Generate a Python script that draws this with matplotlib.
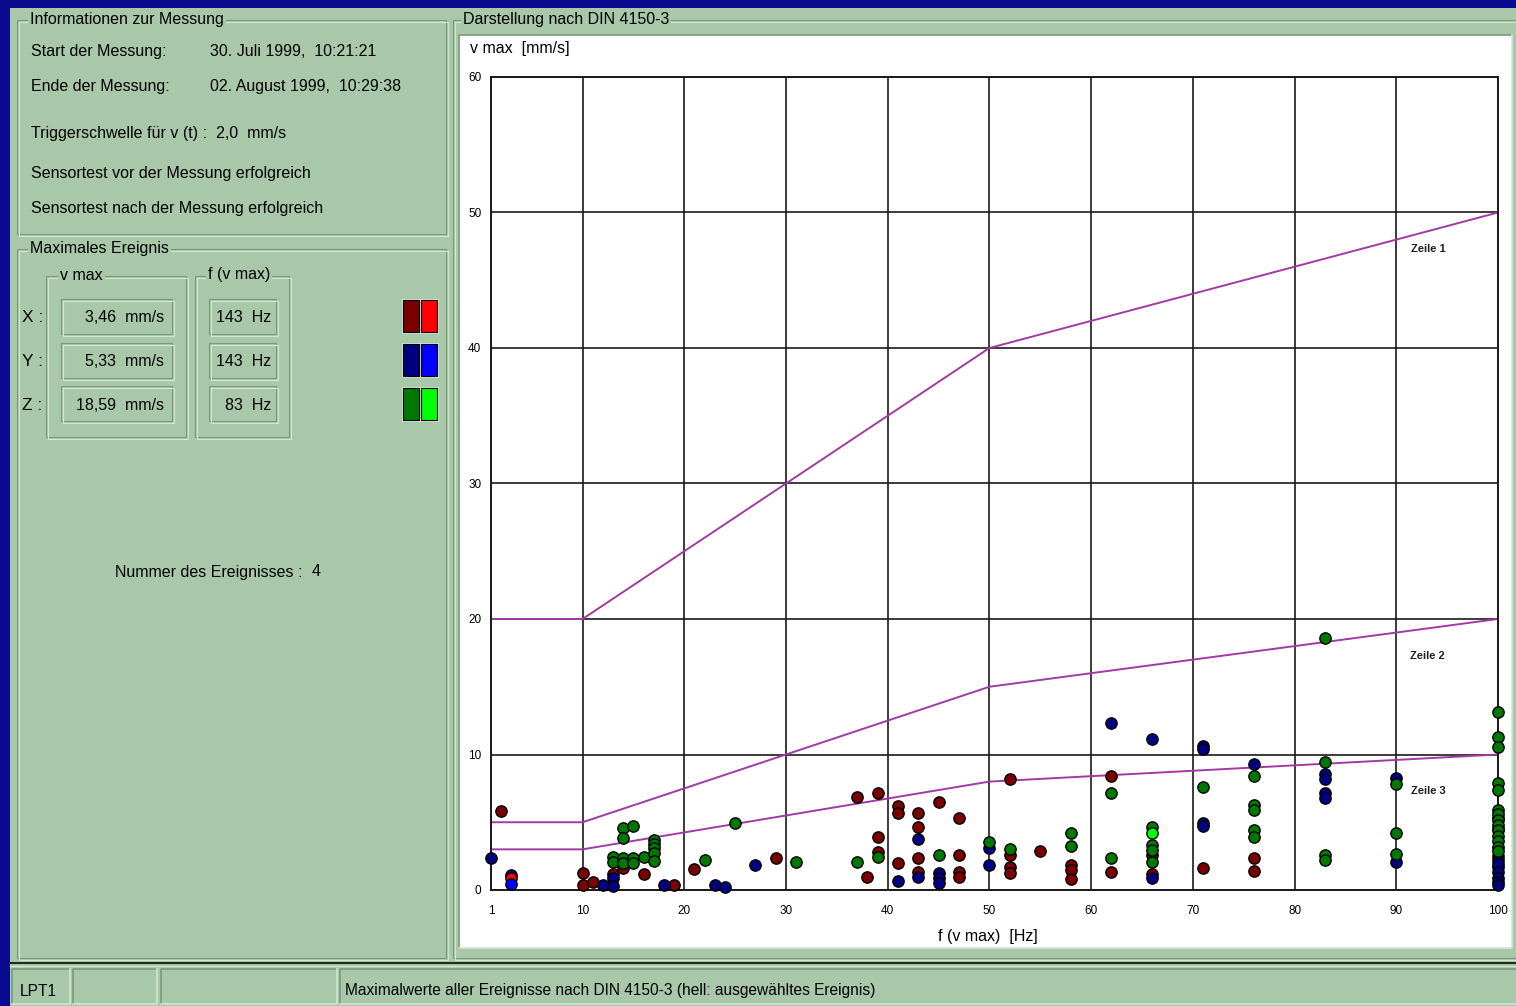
import matplotlib.pyplot as plt
from matplotlib.patches import Rectangle

plt.rcParams['font.family'] = ['Liberation Sans', 'DejaVu Sans']

# ====================== Daten ======================
# Anhaltswerte DIN 4150-3 (Zeile 1..3)
zeile_f = [1, 10, 50, 100]
zeile1 = [20, 20, 40, 50]
zeile2 = [5, 5, 15, 20]
zeile3 = [3, 3, 8, 10]

# X-Komponente (dunkelrot)
x_f = [2, 10, 10, 11, 13, 14, 16, 19, 21, 29, 37, 38, 39, 39, 39, 41, 41, 41,
       43, 43, 43, 43, 45, 47, 47, 47, 47, 52, 52, 52, 52, 55, 58, 58, 58,
       62, 62, 66, 66, 71, 76, 76, 100]
x_v = [5.83, 1.23, 0.37, 0.61, 1.18, 1.6, 1.18, 0.37, 1.55, 2.34, 6.89, 0.94, 7.13, 3.89, 2.83, 6.22, 5.66, 1.97,
       5.71, 4.67, 2.34, 1.35, 6.47, 5.29, 2.58, 1.35, 0.94, 8.17, 2.58, 1.72, 1.28, 2.88, 1.85, 1.48, 0.79,
       8.41, 1.3, 2.58, 1.18, 1.6, 2.34, 1.43, 1.72]

# Y-Komponente (dunkelblau)
y_f = [1, 3, 12, 13, 13, 18, 23, 24, 27, 41, 43, 43, 45, 45, 45, 50, 50,
       62, 66, 66, 71, 71, 71, 71, 76, 83, 83, 83, 83, 90, 90,
       100, 100, 100, 100, 100, 100, 100, 100, 100]
y_v = [2.34, 1.1, 0.37, 0.86, 0.3, 0.37, 0.37, 0.25, 1.82, 0.69, 3.74, 0.94, 1.28, 0.86, 0.49, 3.12, 1.85,
       12.3, 11.14, 0.86, 10.65, 10.4, 4.92, 4.7, 9.3, 8.56, 8.17, 7.18, 6.77, 8.24, 2.09,
       5.3, 4.5, 2.5, 2.2, 1.9, 1.3, 0.9, 0.6, 0.4]

# Z-Komponente (dunkelgruen)
z_f = [13, 13, 14, 14, 14, 14, 15, 15, 15, 16, 17, 17, 17, 17, 17, 22, 25, 31, 37, 39, 45,
       50, 52, 58, 58, 62, 62, 66, 66, 66, 66, 71, 76, 76, 76, 76, 76,
       83, 83, 83, 83, 90, 90, 90,
       100, 100, 100, 100, 100, 100, 100, 100, 100, 100, 100, 100, 100, 100]
z_v = [2.46, 2.09, 4.6, 3.86, 2.34, 2.0, 4.72, 2.34, 2.0, 2.46, 3.69, 3.37, 3.08, 2.71, 2.14, 2.21, 4.92, 2.09, 2.09, 2.41, 2.58,
       3.57, 3.0, 4.18, 3.27, 7.13, 2.39, 4.67, 3.32, 2.95, 2.09, 7.63, 8.41, 6.27, 5.9, 4.43, 3.94,
       18.59, 9.42, 2.58, 2.21, 7.8, 4.18, 2.63,
       13.16, 11.27, 10.58, 7.87, 7.38, 5.9, 5.6, 5.2, 4.8, 4.4, 4.0, 3.6, 3.2, 2.9]

# ausgewaehltes Ereignis (hell)
sel_x = (3, 0.9)
sel_y = (3, 0.45)
sel_z = (66, 4.18)

x_ticks = [1, 10, 20, 30, 40, 50, 60, 70, 80, 90, 100]
y_ticks = [0, 10, 20, 30, 40, 50, 60]

# ====================== Fenster / Dialog ======================
W, H = 1516, 1006
PANEL = '#A9C8A9'
DARK = '#789B78'
LIGHT = '#D2E6D2'
FS = 11.5

fig = plt.figure(figsize=(W / 100, H / 100), dpi=100)
fig.patch.set_facecolor('#0A0A8E')

bg = fig.add_axes([0, 0, 1, 1])
bg.set_xlim(0, W)
bg.set_ylim(H, 0)
bg.axis('off')

bg.add_patch(Rectangle((10, 8), W - 10, H - 8, fc=PANEL, ec='none'))


def etched(x0, y0, x1, y1):
    bg.add_patch(Rectangle((x0, y0), x1 - x0, y1 - y0, fill=False, ec=DARK, lw=0.8))
    bg.add_patch(Rectangle((x0 + 1.5, y0 + 1.5), x1 - x0, y1 - y0, fill=False, ec=LIGHT, lw=0.8))


def sunken(x0, y0, x1, y1, fc=PANEL):
    bg.add_patch(Rectangle((x0, y0), x1 - x0, y1 - y0, fc=fc, ec='none'))
    bg.plot([x0, x0, x1], [y1, y0, y0], color=DARK, lw=1.2)
    bg.plot([x0, x1, x1], [y1, y1, y0], color=LIGHT, lw=1.2)


def title(x, y, s, size=FS):
    bg.text(x, y, s, fontsize=size, va='center', ha='left',
            bbox=dict(fc=PANEL, ec='none', pad=1.5))


def label(x, y, s, size=FS, ha='left'):
    bg.text(x, y, s, fontsize=size, va='center', ha=ha)


# Gruppenrahmen
etched(17, 20, 446, 234)
etched(17, 249, 446, 958)
etched(46, 276, 186, 437)
etched(195, 276, 289, 437)
etched(453, 20, 1520, 958)

title(30, 19, 'Informationen zur Messung')
label(31, 51, 'Start der Messung:')
label(210, 51, '30. Juli 1999,  10:21:21')
label(31, 86, 'Ende der Messung:')
label(210, 86, '02. August 1999,  10:29:38')
label(31, 133, 'Triggerschwelle für v (t) :  2,0  mm/s')
label(31, 173, 'Sensortest vor der Messung erfolgreich')
label(31, 208, 'Sensortest nach der Messung erfolgreich')

title(30, 248, 'Maximales Ereignis')
title(60, 275, 'v max')
title(208, 275, 'f (v max)')

for yy, comp, vmax, fmax in [(318, 'X :', '3,46  mm/s', '143  Hz'),
                             (362, 'Y :', '5,33  mm/s', '143  Hz'),
                             (405, 'Z :', '18,59  mm/s', '83  Hz')]:
    label(22, yy, comp, size=12.5)
    etched(61, yy - 19, 172, yy + 16)
    etched(209, yy - 19, 276, yy + 16)
    label(164, yy, vmax, ha='right')
    label(271, yy, fmax, ha='right')

for yy, c_dark, c_light in [(300, '#7A0000', '#FF0000'),
                            (344, '#000080', '#0000FF'),
                            (388, '#007800', '#00FF00')]:
    bg.add_patch(Rectangle((402, yy - 1), 37, 35, fc=LIGHT, ec='none'))
    bg.add_patch(Rectangle((403, yy), 16, 32, fc=c_dark, ec='black', lw=0.8))
    bg.add_patch(Rectangle((421, yy), 16, 32, fc=c_light, ec='black', lw=0.8))

label(115, 572, 'Nummer des Ereignisses :')
label(312, 572, '4')

# Zeichenflaeche
title(463, 19, 'Darstellung nach DIN 4150-3')
sunken(459, 35, 1512, 948, fc='white')
label(470, 48, 'v max  [mm/s]')
label(988, 937, 'f (v max)  [Hz]', ha='center')

# Statuszeile
bg.plot([10, W], [963, 963], color='#1E2E1E', lw=1.5)
bg.plot([10, W], [965.5, 965.5], color=LIGHT, lw=1)
for x0, x1 in [(12, 70), (73, 157), (161, 337), (340, W + 5)]:
    sunken(x0, 969, x1, 1004)
label(20, 991, 'LPT1', size=11.2)
label(345, 991, 'Maximalwerte aller Ereignisse nach DIN 4150-3 (hell: ausgewähltes Ereignis)', size=11.2)

# ====================== Diagramm ======================
ax = fig.add_axes([491 / W, 1 - 890 / H, (1498 - 491) / W, (890 - 77) / H])
ax.set_facecolor('white')
ax.set_xlim(1, 100)
ax.set_ylim(0, 60)
ax.set_xticks(x_ticks)
ax.set_yticks(y_ticks)
ax.tick_params(length=0, labelsize=8.5, pad=7)
ax.tick_params(axis='x', pad=11)
ax.grid(True, color='#1A1A1A', lw=1.2)
ax.set_axisbelow(True)
for sp in ax.spines.values():
    sp.set_color('#1A1A1A')
    sp.set_linewidth(1.4)

purple = '#A23AA6'
ax.plot(zeile_f, zeile1, color=purple, lw=1.4, zorder=2)
ax.plot(zeile_f, zeile2, color=purple, lw=1.4, zorder=2)
ax.plot(zeile_f, zeile3, color=purple, lw=1.4, zorder=2)
for yv, s in [(47.3, 'Zeile 1'), (17.3, 'Zeile 2'), (7.3, 'Zeile 3')]:
    ax.text(93.1, yv, s, fontsize=8, fontweight='bold', ha='center', va='center',
            color='#202020')

ms = 66
ax.scatter(x_f, x_v, s=ms, c='#7A0000', edgecolors='black', linewidths=1, zorder=3, clip_on=False)
ax.scatter(y_f, y_v, s=ms, c='#000080', edgecolors='black', linewidths=1, zorder=3, clip_on=False)
ax.scatter(z_f, z_v, s=ms, c='#007800', edgecolors='black', linewidths=1, zorder=3, clip_on=False)
ax.scatter([sel_x[0]], [sel_x[1]], s=ms, c='#FF0000', edgecolors='black', linewidths=1, zorder=4)
ax.scatter([sel_y[0]], [sel_y[1]], s=ms, c='#0000FF', edgecolors='black', linewidths=1, zorder=4)
ax.scatter([sel_z[0]], [sel_z[1]], s=ms, c='#00FF00', edgecolors='black', linewidths=1, zorder=4)

fig.savefig('out.png', dpi=100, facecolor=fig.get_facecolor())
